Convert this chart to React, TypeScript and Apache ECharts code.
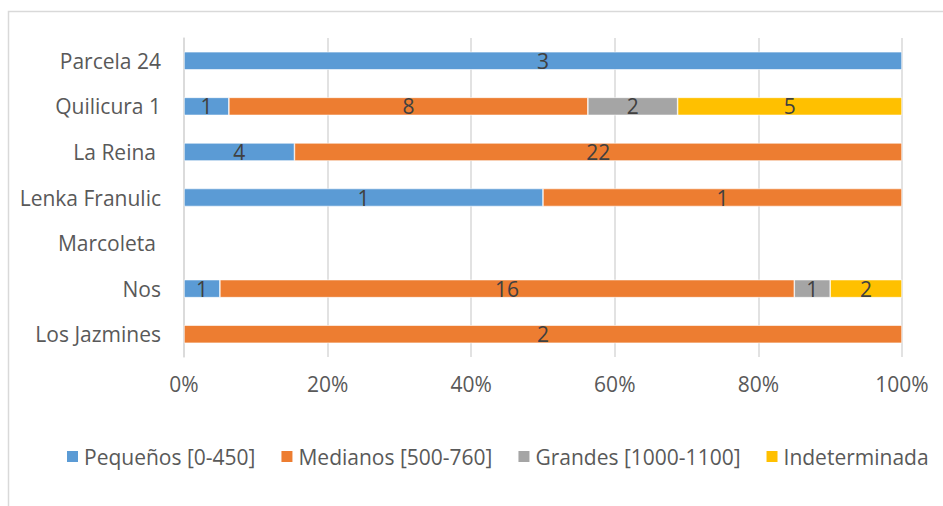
import { useEffect, useRef } from "react";
import * as echarts from "echarts";

// Sites (top to bottom) and counts per size class
const sites = ["Parcela 24", "Quilicura 1", "La Reina ", "Lenka Franulic", "Marcoleta ", "Nos", "Los Jazmines"];
const classNames = ["Pequeños [0-450]", "Medianos [500-760]", "Grandes [1000-1100]", "Indeterminada"];
const pequenos = [3, 1, 4, 1, 0, 1, 0];
const medianos = [0, 8, 22, 1, 0, 16, 2];
const grandes = [0, 2, 0, 0, 0, 1, 0];
const indeterminada = [0, 5, 0, 0, 0, 2, 0];
const classColors = ["#5B9BD5", "#ED7D31", "#A5A5A5", "#FFC000"];

const FONT = "'Open Sans', sans-serif";
const FONT_SIZE = 21;
const AXIS_TEXT = "#595959";
const LABEL_TEXT = "#404040";
const GRID_LINE = "#D9D9D9";

export default function App() {
  const ref = useRef<HTMLDivElement>(null);

  useEffect(() => {
    if (!ref.current) return;
    const chart = echarts.init(ref.current, undefined, { renderer: "svg" });

    const counts = [pequenos, medianos, grandes, indeterminada];
    const totals = sites.map((_, i) => counts.reduce((s, arr) => s + arr[i], 0));

    // 100% stacked: each segment is its share of the site's total, labelled with the raw count
    const series = counts.map((arr, k) => ({
      name: classNames[k],
      type: "bar" as const,
      stack: "total",
      barWidth: 18,
      itemStyle: { color: classColors[k], borderColor: "#ffffff", borderWidth: 0.6 },
      label: {
        show: true,
        position: "inside" as const,
        color: LABEL_TEXT,
        fontFamily: FONT,
        fontSize: FONT_SIZE,
        formatter: (p: any) => (p.data.count > 0 ? String(p.data.count) : ""),
      },
      data: arr.map((n, i) => ({
        value: n > 0 && totals[i] > 0 ? (n / totals[i]) * 100 : "-",
        count: n,
      })),
    }));

    chart.setOption({
      animation: false,
      color: classColors,
      textStyle: { fontFamily: FONT },
      graphic: [
        {
          type: "rect",
          shape: { x: 8.5, y: 11.5, width: 1000, height: 600 },
          style: { fill: "none", stroke: GRID_LINE, lineWidth: 1.5 },
          silent: true,
        },
      ],
      grid: { left: 184, right: 41, top: 38, bottom: 149 },
      xAxis: {
        type: "value",
        min: 0,
        max: 100,
        interval: 20,
        axisLine: { show: false },
        axisTick: { show: false },
        splitLine: { show: true, lineStyle: { color: GRID_LINE, width: 1.5 } },
        axisLabel: {
          formatter: "{value}%",
          color: AXIS_TEXT,
          fontFamily: FONT,
          fontSize: FONT_SIZE,
          margin: 16,
        },
      },
      yAxis: {
        type: "category",
        inverse: true,
        data: sites,
        axisLine: { show: true, lineStyle: { color: GRID_LINE, width: 1.5 } },
        axisTick: { show: false },
        axisLabel: {
          color: AXIS_TEXT,
          fontFamily: FONT,
          fontSize: FONT_SIZE,
          margin: 23,
          formatter: (v: string) => (v.endsWith(" ") ? `{pad|${v.trim()}}` : v),
          rich: {
            pad: { padding: [0, 5, 0, 0], color: AXIS_TEXT, fontFamily: FONT, fontSize: FONT_SIZE },
          },
        },
      },
      legend: {
        left: 60,
        top: 441,
        icon: "rect",
        itemWidth: 13,
        itemHeight: 13,
        itemGap: 24,
        textStyle: { color: AXIS_TEXT, fontFamily: FONT, fontSize: FONT_SIZE },
        data: classNames,
      },
      series,
    });

    return () => chart.dispose();
  }, []);

  return (
    <div style={{ position: "fixed", left: 0, top: 0, width: 943, height: 506, background: "#fff" }}>
      <div ref={ref} style={{ width: 943, height: 506 }} />
    </div>
  );
}
